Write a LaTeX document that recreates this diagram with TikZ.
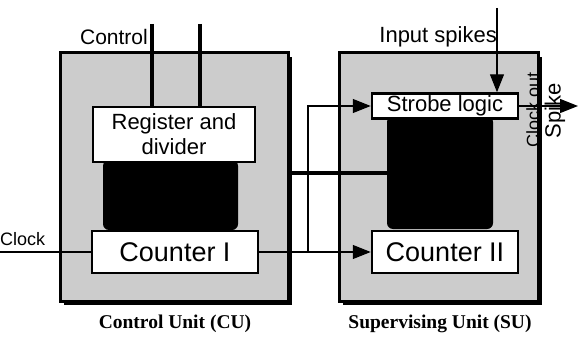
\documentclass[tikz,border=0pt]{standalone}
\usepackage{fontspec}
\setmainfont{Liberation Serif}
\setsansfont{Liberation Sans}
\usetikzlibrary{arrows.meta,shadows}
\newcommand{\speck}[0]{gray!40}
\newcommand{\blob}[4]{\fill[black, rounded corners=6pt] (#1,#2) rectangle (#3,#4)}

\begin{document}
\begin{tikzpicture}[x=1pt, y=-1pt,
	unit/.style = {draw, line width=3pt, fill=\speck, inner sep=0pt,
		drop shadow={shadow xshift=4pt, shadow yshift=-4pt, fill=black, opacity=1}},
	block/.style = {draw, line width=2.5pt, fill=white, inner sep=0pt, align=center,
		font=\sffamily\fontsize{22}{25}\selectfont},
	lbl/.style = {inner sep=0pt, font=\sffamily\fontsize{21}{23}\selectfont},
	unitcaption/.style = {inner sep=0pt, font=\bfseries\fontsize{19.5}{21}\selectfont},
	wire/.style = {line width=1.4pt},
	bus/.style = {line width=4.5pt},
	tip/.style = {-{Triangle[length=18pt, width=14pt]}}]
\useasboundingbox (0,0) rectangle (578,337);
%Units
	\node[unit, minimum width=228pt, minimum height=248pt] (cu) at (174,177) {};
	\node[unit, minimum width=199pt, minimum height=248pt] (su) at (438.5,177) {};
%Dark areas
	\blob{103}{160}{238}{230};
	\blob{387}{116}{493}{229};
%Blocks
	\node[block, minimum width=162pt, minimum height=55pt] (reg) at (174,134.5) {Register and\\divider};
	\node[block, minimum width=166pt, minimum height=42pt,
		font=\sffamily\fontsize{27}{30}\selectfont] (cnt1) at (175,252) {Counter I};
	\node[block, minimum width=146pt, minimum height=25pt] (strobe) at (445,106) {Strobe logic};
	\node[block, minimum width=146pt, minimum height=42pt,
		font=\sffamily\fontsize{27}{30}\selectfont] (cnt2) at (445,252) {Counter II};
%Inputs
	\coordinate (ctlA) at (152,24);
	\coordinate (ctlB) at (200,24);
	\coordinate (clkin) at (0,252);
	\coordinate (spkin) at (497,8);
	\draw[bus] (ctlA) -- (ctlA |- reg.north);
	\draw[bus] (ctlB) -- (ctlB |- reg.north);
	\node[lbl, anchor=east] (ctl) at (148,37) {Control};
	\draw[wire] (clkin) -- (cnt1.west);
	\node[lbl, anchor=south west, font=\sffamily\fontsize{18}{20}\selectfont] (clk) at (0,246) {Clock};
	\draw[wire, tip] (spkin) -- (spkin |- strobe.north);
	\node[lbl, anchor=east, font=\sffamily\fontsize{22}{24}\selectfont] (inp) at (497,37) {Input spikes};
%Links between units
	\coordinate (tap) at (308,252);
	\coordinate (busR) at (400,173);
	\draw[wire, tip] (cnt1.east) -- (cnt2.west);
	\draw[wire, tip] (tap) |- (strobe.west);
	\draw[bus] (cu.east |- busR) -- (busR);
%Outputs
	\coordinate (spkout) at (578,106);
	\draw[wire, tip] (strobe.east) -- (spkout);
	\node[lbl, rotate=90, font=\sffamily\fontsize{18}{20}\selectfont] (clkout) at (533,110) {Clock out};
	\node[lbl, rotate=90, font=\sffamily\fontsize{22}{24}\selectfont] (spk) at (555,111) {Spike};
%Captions
	\node[unitcaption] (cucap) at (175,324) {Control Unit (CU)};
	\node[unitcaption] (sucap) at (440,324) {Supervising Unit (SU)};
\end{tikzpicture}
\end{document}
